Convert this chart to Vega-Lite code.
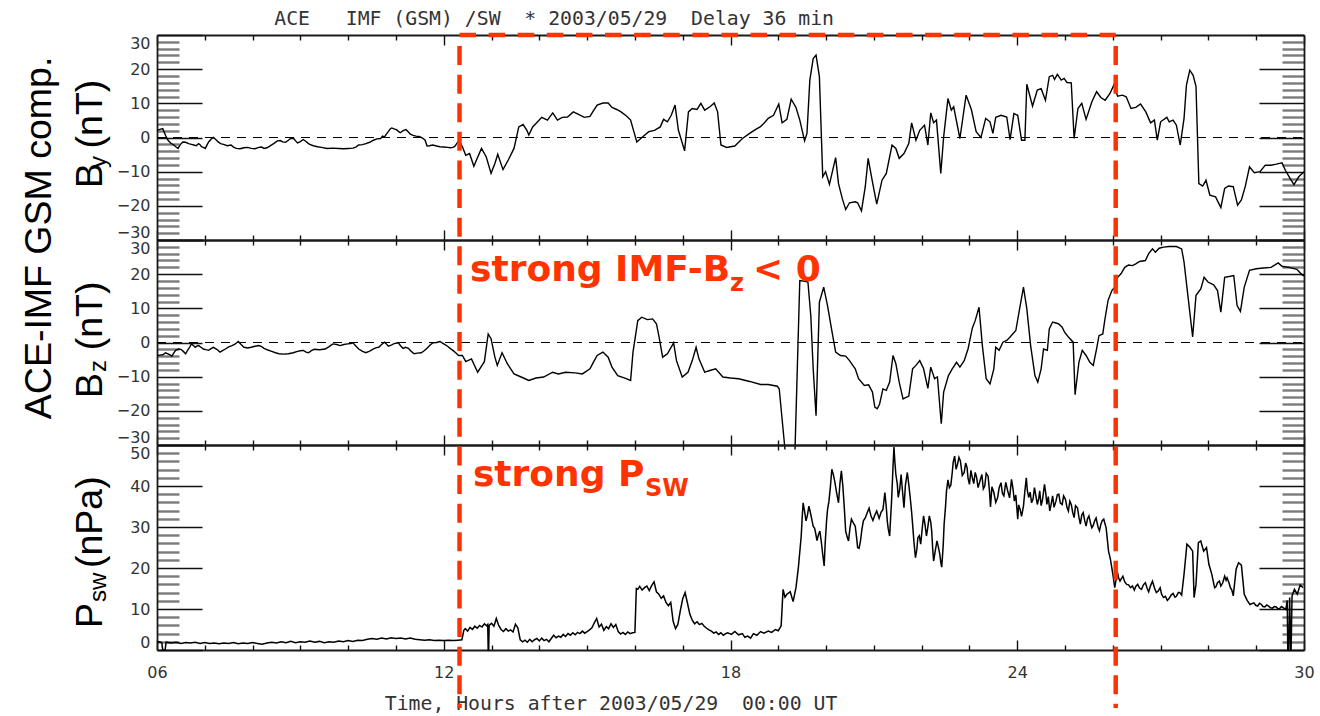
{
  "$schema": "https://vega.github.io/schema/vega-lite/v6.json",
  "autosize": {"type": "pad"},
  "padding": {"left": 20, "top": 9, "right": 0, "bottom": 0},
  "background": "white",
  "config": {
    "view": {"stroke": null},
    "axis": {"grid": false, "domainColor": "#1a1a1a", "domainWidth": 1.8, "labelFont": "DejaVu Sans", "labelFontSize": 16, "labelColor": "#333333", "labelOverlap": false, "labelBound": false}
  },
  "spacing": 0,
  "bounds": "flush",
  "datasets": {
    "by": [
      {"t":6.00,"v":2.1},{"t":6.12,"v":2.6},{"t":6.23,"v":-0.8},{"t":6.35,"v":-2.2},{"t":6.44,"v":-3.2},{"t":6.54,"v":-1.3},{"t":6.66,"v":-1.8},{"t":6.77,"v":-2.2},{"t":6.87,"v":-1.8},{"t":6.93,"v":-2.7},{"t":7.01,"v":-3.2},{"t":7.08,"v":-1.3},{"t":7.18,"v":0},{"t":7.28,"v":-1.3},{"t":7.39,"v":-2.0},{"t":7.55,"v":-2.2},{"t":7.66,"v":-3.2},{"t":7.82,"v":-3.0},{"t":7.97,"v":-3.2},{"t":8.13,"v":-2.9},{"t":8.24,"v":-3.2},{"t":8.36,"v":-2.5},{"t":8.52,"v":-1.0},{"t":8.63,"v":-1.3},{"t":8.75,"v":-0.8},{"t":8.86,"v":-0.3},{"t":8.94,"v":-1.6},{"t":9.06,"v":-0.6},{"t":9.17,"v":-1.8},{"t":9.29,"v":-2.5},{"t":9.44,"v":-2.9},{"t":9.68,"v":-3.1},{"t":9.91,"v":-3.3},{"t":10.10,"v":-3.1},{"t":10.22,"v":-2.2},{"t":10.37,"v":-1.8},{"t":10.53,"v":-0.8},{"t":10.68,"v":-0.3},{"t":10.76,"v":0.2},{"t":10.84,"v":1.7},{"t":10.91,"v":2.8},{"t":11.01,"v":2.3},{"t":11.09,"v":1.4},{"t":11.21,"v":2.3},{"t":11.30,"v":1.0},{"t":11.42,"v":0.4},{"t":11.53,"v":0},{"t":11.61,"v":-0.8},{"t":11.65,"v":-2.5},{"t":11.77,"v":-2.2},{"t":11.92,"v":-2.7},{"t":12.08,"v":-2.9},{"t":12.19,"v":-2.9},{"t":12.27,"v":-1.8},{"t":12.32,"v":-0.8},
      {"t":6.06,"v":2.4},{"t":6.18,"v":0.6},{"t":6.29,"v":-1.7},{"t":6.40,"v":-2.8},{"t":6.49,"v":-2.0},{"t":6.60,"v":-1.4},{"t":6.72,"v":-2.0},{"t":6.82,"v":-2.4},{"t":6.90,"v":-2.1},{"t":6.97,"v":-2.9},{"t":7.04,"v":-2.4},{"t":7.13,"v":-0.5},{"t":7.23,"v":-0.6},{"t":7.33,"v":-1.8},{"t":7.47,"v":-2.4},{"t":7.60,"v":-2.8},{"t":7.74,"v":-3.3},{"t":7.90,"v":-2.9},{"t":8.05,"v":-3.3},{"t":8.19,"v":-2.8},{"t":8.30,"v":-3.0},{"t":8.44,"v":-1.8},{"t":8.58,"v":-0.9},{"t":8.69,"v":-1.4},{"t":8.80,"v":-0.2},{"t":8.90,"v":-1.0},{"t":9.00,"v":-1.2},{"t":9.11,"v":-1.1},{"t":9.23,"v":-2.2},{"t":9.36,"v":-2.7},{"t":9.56,"v":-3.2},{"t":9.80,"v":-3.2},{"t":10.00,"v":-3.2},{"t":10.16,"v":-2.8},{"t":10.30,"v":-2.1},{"t":10.45,"v":-1.4},{"t":10.60,"v":-0.4},{"t":10.72,"v":0.4},{"t":10.80,"v":1.0},{"t":10.88,"v":2.5},{"t":10.96,"v":2.5},{"t":11.05,"v":1.8},{"t":11.15,"v":2.0},{"t":11.26,"v":1.6},{"t":11.36,"v":0.6},{"t":11.48,"v":0.3},{"t":11.57,"v":-0.3},{"t":11.70,"v":-2.4},{"t":11.85,"v":-2.5},{"t":12.00,"v":-2.8},{"t":12.14,"v":-3.0},{"t":12.23,"v":-2.6},
      {"t":12.39,"v":-2.7},{"t":12.46,"v":-5.2},{"t":12.54,"v":-4.7},{"t":12.63,"v":-8.4},{"t":12.70,"v":-6.1},{"t":12.79,"v":-3.2},{"t":12.89,"v":-5.7},{"t":12.99,"v":-10.5},{"t":13.07,"v":-7.6},{"t":13.13,"v":-4.9},{"t":13.24,"v":-9.4},{"t":13.35,"v":-6.6},{"t":13.47,"v":-3.2},{"t":13.57,"v":3.1},{"t":13.66,"v":3.8},{"t":13.74,"v":2.1},{"t":13.78,"v":0.7},{"t":13.86,"v":3.1},{"t":13.93,"v":4.1},{"t":14.05,"v":5.9},{"t":14.17,"v":5.1},{"t":14.28,"v":7.2},{"t":14.38,"v":5.1},{"t":14.48,"v":5.9},{"t":14.59,"v":6.0},{"t":14.71,"v":7.5},{"t":14.82,"v":6.8},{"t":14.94,"v":5.9},{"t":15.06,"v":6.2},{"t":15.13,"v":7.8},{"t":15.21,"v":9.5},{"t":15.33,"v":10.1},{"t":15.44,"v":10.1},{"t":15.52,"v":8.8},{"t":15.62,"v":8.2},{"t":15.71,"v":7.5},{"t":15.83,"v":6.2},{"t":15.91,"v":5.1},{"t":15.96,"v":2.6},{"t":16.04,"v":-1.3},{"t":16.14,"v":-0.1},{"t":16.29,"v":1.7},{"t":16.41,"v":2.1},{"t":16.53,"v":3.1},{"t":16.60,"v":5.3},{"t":16.68,"v":4.6},{"t":16.76,"v":6.5},{"t":16.84,"v":9.5},{"t":16.91,"v":2.1},{"t":17.04,"v":-3.9},{"t":17.12,"v":7.5},{"t":17.20,"v":8.5},{"t":17.30,"v":8.2},{"t":17.38,"v":10.0},{"t":17.46,"v":8.0},{"t":17.57,"v":9.0},{"t":17.66,"v":10.1},{"t":17.73,"v":7.5},{"t":17.80,"v":-2.2},{"t":17.92,"v":-2.9},{"t":18.00,"v":-2.7},{"t":18.09,"v":-2.5},{"t":18.25,"v":-0.3},{"t":18.40,"v":1.2},{"t":18.52,"v":2.3},{"t":18.62,"v":3.1},{"t":18.71,"v":4.3},{"t":18.79,"v":5.6},{"t":18.90,"v":6.5},{"t":19.01,"v":9.8},{"t":19.08,"v":4.3},{"t":19.18,"v":5.3},{"t":19.27,"v":11.2},{"t":19.37,"v":8.8},{"t":19.45,"v":5.1},{"t":19.55,"v":-1.0},{"t":19.60,"v":1.2},{"t":19.66,"v":16.8},{"t":19.73,"v":23.1},{"t":19.79,"v":24.1},{"t":19.86,"v":17.8},{"t":19.93,"v":-11.5},{"t":19.99,"v":-10.0},{"t":20.07,"v":-13.7},{"t":20.20,"v":-5.9},{"t":20.26,"v":-13.5},{"t":20.34,"v":-17.9},{"t":20.41,"v":-21.1},{"t":20.49,"v":-19.1},{"t":20.61,"v":-18.8},{"t":20.66,"v":-19.1},{"t":20.74,"v":-21.5},{"t":20.82,"v":-14.4},{"t":20.88,"v":-6.1},{"t":20.97,"v":-13.0},{"t":21.06,"v":-19.5},{"t":21.17,"v":-12.5},{"t":21.26,"v":-10.5},{"t":21.38,"v":-2.2},{"t":21.46,"v":-3.2},{"t":21.53,"v":-6.1},{"t":21.63,"v":-4.7},{"t":21.73,"v":-1.8},{"t":21.79,"v":4.3},{"t":21.88,"v":-0.8},{"t":21.96,"v":2.1},{"t":22.06,"v":3.6},{"t":22.13,"v":-2.2},{"t":22.19,"v":7.2},{"t":22.25,"v":4.3},{"t":22.31,"v":5.1},{"t":22.40,"v":-10.5},{"t":22.46,"v":0.2},{"t":22.55,"v":11.4},{"t":22.62,"v":8.0},{"t":22.67,"v":9.0},{"t":22.80,"v":-0.3},{"t":22.93,"v":12.4},{"t":23.04,"v":8.2},{"t":23.14,"v":1.7},{"t":23.24,"v":0},{"t":23.34,"v":5.6},{"t":23.43,"v":4.6},{"t":23.49,"v":1.2},{"t":23.55,"v":5.9},{"t":23.66,"v":6.5},{"t":23.78,"v":6.0},{"t":23.85,"v":-0.6},{"t":23.93,"v":7.0},{"t":24.01,"v":6.5},{"t":24.09,"v":-0.8},{"t":24.16,"v":-0.8},{"t":24.20,"v":15.6},{"t":24.32,"v":9.2},{"t":24.42,"v":13.9},{"t":24.50,"v":14.3},{"t":24.59,"v":10.9},{"t":24.67,"v":17.8},{"t":24.74,"v":18.2},{"t":24.78,"v":17.0},{"t":24.84,"v":18.5},{"t":24.92,"v":16.8},{"t":24.98,"v":17.3},{"t":25.04,"v":16.1},{"t":25.13,"v":16.0},{"t":25.19,"v":-0.3},{"t":25.27,"v":8.5},{"t":25.35,"v":10.0},{"t":25.44,"v":5.3},{"t":25.56,"v":10.4},{"t":25.66,"v":13.4},{"t":25.75,"v":11.7},{"t":25.84,"v":10.9},{"t":25.94,"v":12.9},{"t":26.02,"v":15.3},{"t":26.10,"v":12.1},{"t":26.20,"v":12.4},{"t":26.28,"v":11.9},{"t":26.38,"v":8.5},{"t":26.48,"v":8.8},{"t":26.58,"v":9.8},{"t":26.69,"v":7.5},{"t":26.79,"v":4.3},{"t":26.87,"v":5.1},{"t":26.93,"v":-0.8},{"t":27.00,"v":4.6},{"t":27.13,"v":5.9},{"t":27.18,"v":4.6},{"t":27.26,"v":5.1},{"t":27.33,"v":3.6},{"t":27.41,"v":-2.2},{"t":27.49,"v":5.6},{"t":27.54,"v":15.3},{"t":27.61,"v":19.7},{"t":27.68,"v":18.2},{"t":27.74,"v":15.0},{"t":27.80,"v":-13.5},{"t":27.88,"v":-14.2},{"t":27.95,"v":-12.5},{"t":28.03,"v":-16.9},{"t":28.15,"v":-17.4},{"t":28.26,"v":-20.5},{"t":28.34,"v":-14.9},{"t":28.42,"v":-14.2},{"t":28.52,"v":-14.4},{"t":28.61,"v":-19.8},{"t":28.69,"v":-18.3},{"t":28.77,"v":-14.4},{"t":28.86,"v":-8.6},{"t":28.96,"v":-10.3},{"t":29.08,"v":-10.0},{"t":29.19,"v":-8.1},{"t":29.31,"v":-8.1},{"t":29.42,"v":-7.8},{"t":29.54,"v":-7.4},{"t":29.61,"v":-9.6},{"t":29.69,"v":-11.5},{"t":29.79,"v":-13.8},{"t":29.89,"v":-11.5},{"t":30.00,"v":-10.0}
    ],
    "bz": [
      {"t":6.00,"v":-3.8},{"t":6.12,"v":-3.6},{"t":6.23,"v":-3.3},{"t":6.31,"v":-4.0},{"t":6.39,"v":-2.3},{"t":6.50,"v":-2.0},{"t":6.60,"v":-3.3},{"t":6.66,"v":-1.9},{"t":6.72,"v":-0.4},{"t":6.80,"v":-1.4},{"t":6.87,"v":-0.9},{"t":6.97,"v":-1.9},{"t":7.08,"v":-2.3},{"t":7.18,"v":-1.4},{"t":7.32,"v":-2.8},{"t":7.43,"v":-1.9},{"t":7.57,"v":-0.9},{"t":7.70,"v":0.3},{"t":7.82,"v":-1.4},{"t":7.97,"v":-1.4},{"t":8.13,"v":-0.9},{"t":8.24,"v":-1.7},{"t":8.40,"v":-2.6},{"t":8.55,"v":-3.3},{"t":8.75,"v":-3.3},{"t":8.94,"v":-2.6},{"t":9.06,"v":-2.3},{"t":9.17,"v":-3.0},{"t":9.29,"v":-2.0},{"t":9.52,"v":-1.9},{"t":9.68,"v":-0.4},{"t":9.83,"v":-0.9},{"t":9.99,"v":-0.4},{"t":10.10,"v":-0.1},{"t":10.22,"v":-1.9},{"t":10.37,"v":-3.0},{"t":10.53,"v":-1.9},{"t":10.64,"v":-1.4},{"t":10.76,"v":0.1},{"t":10.84,"v":-1.1},{"t":10.95,"v":-0.4},{"t":11.05,"v":-0.1},{"t":11.15,"v":-1.7},{"t":11.26,"v":-1.7},{"t":11.38,"v":-3.3},{"t":11.53,"v":-3.0},{"t":11.65,"v":-1.7},{"t":11.77,"v":-0.1},{"t":11.92,"v":0.3},{"t":12.08,"v":-1.1},{"t":12.19,"v":-2.3},{"t":12.31,"v":-3.8},
      {"t":6.06,"v":-3.7},{"t":6.18,"v":-3.0},{"t":6.27,"v":-3.6},{"t":6.35,"v":-3.1},{"t":6.45,"v":-1.9},{"t":6.55,"v":-2.6},{"t":6.63,"v":-2.5},{"t":6.69,"v":-1.2},{"t":6.76,"v":-0.9},{"t":6.84,"v":-1.0},{"t":6.92,"v":-1.4},{"t":7.02,"v":-2.1},{"t":7.13,"v":-1.8},{"t":7.25,"v":-2.0},{"t":7.38,"v":-2.3},{"t":7.50,"v":-1.3},{"t":7.63,"v":-0.5},{"t":7.76,"v":-0.6},{"t":7.90,"v":-1.6},{"t":8.05,"v":-1.1},{"t":8.19,"v":-1.2},{"t":8.32,"v":-2.2},{"t":8.48,"v":-3.0},{"t":8.65,"v":-3.4},{"t":8.85,"v":-3.0},{"t":9.00,"v":-2.4},{"t":9.12,"v":-2.8},{"t":9.23,"v":-2.4},{"t":9.40,"v":-2.1},{"t":9.60,"v":-1.2},{"t":9.76,"v":-0.6},{"t":9.91,"v":-0.6},{"t":10.05,"v":-0.3},{"t":10.16,"v":-1.0},{"t":10.30,"v":-2.6},{"t":10.45,"v":-2.5},{"t":10.59,"v":-1.5},{"t":10.70,"v":-0.6},{"t":10.80,"v":-0.4},{"t":10.90,"v":-0.8},{"t":11.00,"v":-0.2},{"t":11.10,"v":-1.0},{"t":11.20,"v":-1.4},{"t":11.32,"v":-2.6},{"t":11.45,"v":-3.1},{"t":11.59,"v":-2.4},{"t":11.71,"v":-0.8},{"t":11.85,"v":0.0},{"t":12.00,"v":-0.4},{"t":12.14,"v":-1.8},{"t":12.25,"v":-3.0},
      {"t":12.39,"v":-3.8},{"t":12.46,"v":-5.6},{"t":12.58,"v":-4.8},{"t":12.71,"v":-8.7},{"t":12.80,"v":-6.7},{"t":12.85,"v":-5.6},{"t":12.93,"v":2.5},{"t":12.99,"v":1.1},{"t":13.07,"v":-4.3},{"t":13.12,"v":-6.7},{"t":13.22,"v":-3.0},{"t":13.33,"v":-6.2},{"t":13.47,"v":-9.2},{"t":13.62,"v":-10.1},{"t":13.78,"v":-11.1},{"t":13.93,"v":-10.4},{"t":14.09,"v":-10.1},{"t":14.28,"v":-8.7},{"t":14.40,"v":-9.2},{"t":14.55,"v":-8.7},{"t":14.75,"v":-8.9},{"t":14.90,"v":-9.2},{"t":15.06,"v":-7.7},{"t":15.13,"v":-5.8},{"t":15.21,"v":-3.8},{"t":15.33,"v":-2.8},{"t":15.44,"v":-4.3},{"t":15.52,"v":-7.2},{"t":15.64,"v":-9.7},{"t":15.79,"v":-10.4},{"t":15.91,"v":-11.1},{"t":15.96,"v":-2.8},{"t":16.06,"v":6.4},{"t":16.14,"v":7.4},{"t":16.26,"v":6.7},{"t":16.37,"v":6.9},{"t":16.45,"v":5.5},{"t":16.50,"v":2.0},{"t":16.58,"v":-4.3},{"t":16.68,"v":-3.3},{"t":16.81,"v":-0.1},{"t":16.87,"v":-5.3},{"t":16.99,"v":-10.1},{"t":17.11,"v":-8.7},{"t":17.20,"v":-5.3},{"t":17.28,"v":-1.4},{"t":17.34,"v":-4.8},{"t":17.46,"v":-8.7},{"t":17.57,"v":-8.2},{"t":17.69,"v":-7.7},{"t":17.84,"v":-10.1},{"t":18.00,"v":-10.4},{"t":18.17,"v":-10.6},{"t":18.40,"v":-11.4},{"t":18.63,"v":-12.3},{"t":18.79,"v":-12.3},{"t":18.98,"v":-12.8},{"t":19.02,"v":-13.6},{"t":19.14,"v":-31.3},{"t":19.15,"v":null},{"t":19.34,"v":null},{"t":19.35,"v":-31.3},{"t":19.45,"v":18.1},{"t":19.56,"v":17.9},{"t":19.62,"v":17.7},{"t":19.68,"v":7.9},{"t":19.73,"v":-7.7},{"t":19.79,"v":-21.4},{"t":19.86,"v":11.8},{"t":19.95,"v":16.2},{"t":20.03,"v":10.8},{"t":20.12,"v":3.5},{"t":20.20,"v":-2.8},{"t":20.30,"v":-3.8},{"t":20.41,"v":-4.0},{"t":20.49,"v":-5.3},{"t":20.61,"v":-7.7},{"t":20.68,"v":-10.6},{"t":20.80,"v":-12.6},{"t":20.89,"v":-12.4},{"t":20.97,"v":-14.5},{"t":21.02,"v":-18.9},{"t":21.07,"v":-19.4},{"t":21.12,"v":-18.0},{"t":21.19,"v":-13.6},{"t":21.26,"v":-14.0},{"t":21.33,"v":-11.6},{"t":21.40,"v":-3.8},{"t":21.46,"v":-6.2},{"t":21.53,"v":-11.6},{"t":21.61,"v":-16.5},{"t":21.73,"v":-15.7},{"t":21.81,"v":-7.7},{"t":21.88,"v":-6.7},{"t":21.96,"v":-5.3},{"t":22.04,"v":-7.7},{"t":22.13,"v":-13.4},{"t":22.19,"v":-7.2},{"t":22.27,"v":-10.6},{"t":22.33,"v":-10.1},{"t":22.41,"v":-23.8},{"t":22.46,"v":-14.5},{"t":22.56,"v":-9.7},{"t":22.64,"v":-7.7},{"t":22.73,"v":-5.8},{"t":22.80,"v":-7.2},{"t":22.89,"v":-5.3},{"t":22.97,"v":-1.9},{"t":23.06,"v":4.2},{"t":23.12,"v":6.4},{"t":23.20,"v":10.3},{"t":23.27,"v":-0.9},{"t":23.35,"v":-10.6},{"t":23.43,"v":-12.1},{"t":23.51,"v":-7.7},{"t":23.55,"v":-1.4},{"t":23.62,"v":-2.3},{"t":23.70,"v":0.1},{"t":23.78,"v":0.6},{"t":23.85,"v":1.6},{"t":23.97,"v":3.5},{"t":24.05,"v":9.9},{"t":24.13,"v":16.2},{"t":24.20,"v":9.9},{"t":24.28,"v":-0.9},{"t":24.37,"v":-9.7},{"t":24.43,"v":-11.6},{"t":24.50,"v":-7.7},{"t":24.55,"v":-1.9},{"t":24.63,"v":-2.3},{"t":24.67,"v":4.0},{"t":24.74,"v":6.0},{"t":24.86,"v":5.5},{"t":24.94,"v":4.5},{"t":24.99,"v":3.0},{"t":25.07,"v":1.6},{"t":25.17,"v":0.1},{"t":25.21,"v":-15.3},{"t":25.29,"v":-5.8},{"t":25.36,"v":-2.3},{"t":25.44,"v":-3.8},{"t":25.52,"v":-5.8},{"t":25.59,"v":-6.7},{"t":25.66,"v":-1.9},{"t":25.71,"v":2.0},{"t":25.79,"v":2.5},{"t":25.83,"v":6.4},{"t":25.90,"v":12.3},{"t":25.98,"v":15.2},{"t":26.04,"v":16.2},{"t":26.10,"v":19.1},{"t":26.17,"v":20.1},{"t":26.25,"v":22.0},{"t":26.33,"v":22.7},{"t":26.41,"v":22.5},{"t":26.48,"v":23.0},{"t":26.56,"v":23.7},{"t":26.68,"v":24.0},{"t":26.75,"v":26.0},{"t":26.83,"v":27.4},{"t":26.89,"v":26.4},{"t":26.97,"v":27.6},{"t":27.06,"v":27.9},{"t":27.18,"v":28.1},{"t":27.33,"v":28.1},{"t":27.44,"v":27.4},{"t":27.49,"v":23.5},{"t":27.57,"v":13.8},{"t":27.67,"v":1.6},{"t":27.74,"v":13.8},{"t":27.84,"v":15.7},{"t":27.91,"v":19.1},{"t":27.99,"v":17.7},{"t":28.11,"v":16.9},{"t":28.19,"v":15.2},{"t":28.26,"v":8.9},{"t":28.34,"v":19.1},{"t":28.46,"v":19.4},{"t":28.53,"v":19.6},{"t":28.60,"v":10.8},{"t":28.67,"v":9.1},{"t":28.75,"v":16.2},{"t":28.86,"v":21.1},{"t":29.00,"v":21.6},{"t":29.15,"v":21.8},{"t":29.31,"v":22.0},{"t":29.46,"v":23.3},{"t":29.54,"v":22.3},{"t":29.69,"v":22.0},{"t":29.85,"v":21.4},{"t":29.96,"v":19.8},{"t":30.00,"v":19.5}
    ],
    "psw": [
      {"t":6.00,"v":1.9},{"t":6.05,"v":2.0},{"t":6.10,"v":1.8},{"t":6.12,"v":0.0},{"t":6.17,"v":0.0},{"t":6.19,"v":1.9},{"t":6.30,"v":1.7},{"t":6.40,"v":1.9},{"t":6.50,"v":1.6},{"t":6.60,"v":1.8},{"t":6.70,"v":1.7},{"t":6.80,"v":1.9},{"t":6.90,"v":1.6},{"t":7.00,"v":1.8},{"t":7.10,"v":1.6},{"t":7.20,"v":1.7},{"t":7.30,"v":1.5},{"t":7.40,"v":1.7},{"t":7.50,"v":1.6},{"t":7.60,"v":1.8},{"t":7.70,"v":1.5},{"t":7.80,"v":1.7},{"t":7.90,"v":1.6},{"t":8.00,"v":1.8},{"t":8.10,"v":1.6},{"t":8.20,"v":1.4},{"t":8.30,"v":1.7},{"t":8.40,"v":1.9},{"t":8.50,"v":1.7},{"t":8.60,"v":2.0},{"t":8.70,"v":1.8},{"t":8.80,"v":2.1},{"t":8.90,"v":1.8},{"t":9.00,"v":2.0},{"t":9.10,"v":1.9},{"t":9.20,"v":2.2},{"t":9.30,"v":1.9},{"t":9.40,"v":2.1},{"t":9.50,"v":1.8},{"t":9.60,"v":2.0},{"t":9.70,"v":1.9},{"t":9.80,"v":2.2},{"t":9.90,"v":2.0},{"t":10.00,"v":2.3},{"t":10.10,"v":2.1},{"t":10.20,"v":2.4},{"t":10.30,"v":2.3},{"t":10.40,"v":2.6},{"t":10.50,"v":2.8},{"t":10.60,"v":2.6},{"t":10.70,"v":2.9},{"t":10.80,"v":2.7},{"t":10.90,"v":3.0},{"t":11.00,"v":2.8},{"t":11.10,"v":2.9},{"t":11.20,"v":2.7},{"t":11.30,"v":2.9},{"t":11.40,"v":2.6},{"t":11.50,"v":2.5},{"t":11.60,"v":2.4},{"t":11.70,"v":2.5},{"t":11.80,"v":2.3},{"t":11.90,"v":2.4},{"t":12.00,"v":2.3},{"t":12.10,"v":2.4},{"t":12.20,"v":2.3},{"t":12.30,"v":2.4},{"t":12.38,"v":2.5},
      {"t":12.42,"v":4.8},{"t":12.45,"v":5.2},{"t":12.50,"v":4.6},{"t":12.55,"v":5.5},{"t":12.60,"v":5.0},{"t":12.65,"v":5.8},{"t":12.70,"v":5.3},{"t":12.75,"v":6.0},{"t":12.80,"v":5.6},{"t":12.85,"v":6.4},{"t":12.90,"v":5.9},{"t":12.92,"v":6.2},{"t":12.93,"v":0.0},{"t":12.94,"v":0.0},{"t":12.95,"v":6.0},{"t":13.00,"v":6.5},{"t":13.05,"v":5.8},{"t":13.10,"v":7.7},{"t":13.15,"v":6.0},{"t":13.20,"v":5.0},{"t":13.25,"v":4.5},{"t":13.30,"v":5.2},{"t":13.35,"v":4.6},{"t":13.40,"v":4.9},{"t":13.45,"v":4.4},{"t":13.50,"v":6.3},{"t":13.55,"v":5.4},{"t":13.60,"v":2.5},{"t":13.65,"v":2.0},{"t":13.70,"v":2.4},{"t":13.75,"v":1.9},{"t":13.80,"v":2.6},{"t":13.85,"v":2.0},{"t":13.90,"v":2.5},{"t":13.95,"v":2.8},{"t":14.00,"v":2.2},{"t":14.05,"v":2.9},{"t":14.10,"v":2.3},{"t":14.15,"v":2.6},{"t":14.20,"v":2.0},{"t":14.25,"v":2.8},{"t":14.30,"v":3.6},{"t":14.35,"v":3.0},{"t":14.40,"v":3.4},{"t":14.45,"v":3.1},{"t":14.50,"v":3.8},{"t":14.55,"v":3.3},{"t":14.60,"v":4.0},{"t":14.65,"v":3.6},{"t":14.70,"v":4.2},{"t":14.75,"v":3.7},{"t":14.80,"v":4.3},{"t":14.85,"v":4.0},{"t":14.90,"v":4.6},{"t":14.95,"v":4.1},{"t":15.00,"v":4.5},{"t":15.05,"v":4.9},{"t":15.10,"v":5.4},{"t":15.15,"v":6.6},{"t":15.20,"v":7.7},{"t":15.25,"v":5.6},{"t":15.30,"v":6.3},{"t":15.35,"v":4.8},{"t":15.40,"v":5.7},{"t":15.45,"v":5.2},{"t":15.50,"v":6.4},{"t":15.55,"v":5.5},{"t":15.60,"v":6.2},{"t":15.65,"v":4.5},{"t":15.70,"v":3.9},{"t":15.75,"v":4.3},{"t":15.80,"v":3.8},{"t":15.85,"v":4.4},{"t":15.90,"v":4.0},{"t":15.95,"v":4.2},{"t":16.00,"v":4.3},{"t":16.03,"v":15.0},{"t":16.06,"v":14.8},{"t":16.10,"v":15.5},{"t":16.15,"v":14.6},{"t":16.20,"v":15.2},{"t":16.25,"v":15.6},{"t":16.30,"v":14.5},{"t":16.35,"v":15.7},{"t":16.40,"v":16.6},{"t":16.45,"v":14.2},{"t":16.50,"v":13.6},{"t":16.55,"v":12.6},{"t":16.60,"v":13.2},{"t":16.65,"v":11.6},{"t":16.70,"v":10.8},{"t":16.75,"v":11.6},{"t":16.80,"v":7.0},{"t":16.85,"v":5.2},{"t":16.90,"v":6.3},{"t":16.95,"v":9.6},{"t":17.00,"v":12.5},{"t":17.05,"v":14.0},{"t":17.10,"v":11.4},{"t":17.15,"v":8.7},{"t":17.20,"v":7.3},{"t":17.25,"v":6.4},{"t":17.30,"v":6.9},{"t":17.35,"v":6.2},{"t":17.40,"v":6.5},{"t":17.45,"v":5.8},{"t":17.50,"v":5.3},{"t":17.55,"v":4.9},{"t":17.60,"v":4.6},{"t":17.65,"v":4.1},{"t":17.70,"v":4.4},{"t":17.75,"v":3.8},{"t":17.80,"v":4.2},{"t":17.85,"v":3.6},{"t":17.90,"v":4.0},{"t":17.94,"v":4.2},
      {"t":18.02,"v":3.8},{"t":18.09,"v":4.5},{"t":18.17,"v":3.7},{"t":18.25,"v":4.0},{"t":18.30,"v":3.1},{"t":18.36,"v":3.4},{"t":18.42,"v":2.9},{"t":18.48,"v":4.0},{"t":18.55,"v":3.6},{"t":18.63,"v":4.5},{"t":18.70,"v":4.1},{"t":18.79,"v":4.6},{"t":18.86,"v":4.3},{"t":18.94,"v":5.0},{"t":19.00,"v":4.7},{"t":19.06,"v":5.9},{"t":19.10,"v":14.8},{"t":19.14,"v":12.9},{"t":19.18,"v":13.6},{"t":19.25,"v":14.2},{"t":19.31,"v":11.8},{"t":19.37,"v":15.2},{"t":19.42,"v":20.1},{"t":19.48,"v":27.8},{"t":19.52,"v":35.9},{"t":19.58,"v":31.5},{"t":19.64,"v":35.1},{"t":19.70,"v":31.9},{"t":19.76,"v":29.7},{"t":19.81,"v":26.7},{"t":19.87,"v":29.0},{"t":19.93,"v":23.3},{"t":19.96,"v":20.5},{"t":20.01,"v":31.5},{"t":20.06,"v":36.3},{"t":20.12,"v":44.1},{"t":20.18,"v":41.2},{"t":20.26,"v":35.9},{"t":20.32,"v":43.7},{"t":20.37,"v":36.7},{"t":20.41,"v":29.0},{"t":20.47,"v":26.6},{"t":20.53,"v":31.9},{"t":20.61,"v":30.2},{"t":20.66,"v":25.0},{"t":20.72,"v":26.6},{"t":20.78,"v":31.5},{"t":20.86,"v":33.5},{"t":20.94,"v":32.7},{"t":21.02,"v":32.9},{"t":21.11,"v":32.1},{"t":21.19,"v":34.3},{"t":21.23,"v":38.4},{"t":21.28,"v":31.5},{"t":21.33,"v":27.8},{"t":21.37,"v":36.3},{"t":21.42,"v":49.5},{"t":21.46,"v":42.8},{"t":21.51,"v":37.2},{"t":21.57,"v":42.8},{"t":21.63,"v":34.7},{"t":21.70,"v":43.3},{"t":21.76,"v":37.2},{"t":21.81,"v":30.7},{"t":21.87,"v":22.5},{"t":21.92,"v":27.4},{"t":21.98,"v":25.8},{"t":22.04,"v":32.7},{"t":22.10,"v":27.8},{"t":22.16,"v":32.7},{"t":22.21,"v":29.0},{"t":22.25,"v":21.7},{"t":22.32,"v":26.6},{"t":22.38,"v":23.3},{"t":22.42,"v":20.2},{"t":22.47,"v":30.7},{"t":22.52,"v":38.8},{"t":22.58,"v":39.6},{"t":22.64,"v":43.3},{"t":22.69,"v":47.3},{"t":22.75,"v":45.3},{"t":22.81,"v":46.1},{"t":22.89,"v":43.3},{"t":22.95,"v":44.5},{"t":23.00,"v":40.4},{"t":23.06,"v":42.0},{"t":23.12,"v":43.3},{"t":23.18,"v":39.6},{"t":23.26,"v":42.8},{"t":23.32,"v":40.0},{"t":23.39,"v":42.4},{"t":23.44,"v":34.9},{"t":23.51,"v":38.4},{"t":23.59,"v":37.2},{"t":23.66,"v":40.8},{"t":23.72,"v":37.6},{"t":23.80,"v":38.8},{"t":23.88,"v":41.6},{"t":23.94,"v":36.3},{"t":24.01,"v":31.9},{"t":24.06,"v":34.3},{"t":24.13,"v":35.1},{"t":24.19,"v":42.0},{"t":24.24,"v":37.2},{"t":24.30,"v":35.9},{"t":24.36,"v":39.6},{"t":24.42,"v":35.5},{"t":24.47,"v":38.8},{"t":24.53,"v":36.7},{"t":24.57,"v":40.4},{"t":24.62,"v":35.5},{"t":24.68,"v":33.9},{"t":24.74,"v":37.6},{"t":24.81,"v":36.3},{"t":24.87,"v":38.0},{"t":24.94,"v":35.5},{"t":25.01,"v":36.7},{"t":25.07,"v":33.9},{"t":25.13,"v":35.5},{"t":25.19,"v":32.3},{"t":25.26,"v":34.7},{"t":25.32,"v":30.7},{"t":25.38,"v":33.5},{"t":25.44,"v":30.2},{"t":25.50,"v":32.7},{"t":25.56,"v":29.8},{"t":25.62,"v":31.5},{"t":25.69,"v":30.0},{"t":25.75,"v":30.7},{"t":25.81,"v":31.9},{"t":25.86,"v":29.8},{"t":25.91,"v":24.1},{"t":25.95,"v":22.1},{"t":26.00,"v":18.5},{"t":26.04,"v":15.2},{"t":26.10,"v":18.9},{"t":26.15,"v":16.8},{"t":26.21,"v":18.0},{"t":26.29,"v":16.0},{"t":26.37,"v":15.2},{"t":26.45,"v":14.6},{"t":26.52,"v":16.0},{"t":26.60,"v":14.8},{"t":26.68,"v":16.4},{"t":26.75,"v":14.2},{"t":26.83,"v":16.8},{"t":26.91,"v":14.0},{"t":26.99,"v":15.2},{"t":27.06,"v":12.8},{"t":27.14,"v":12.1},{"t":27.22,"v":13.4},{"t":27.30,"v":12.9},{"t":27.37,"v":14.0},{"t":27.44,"v":13.4},{"t":27.49,"v":18.5},{"t":27.55,"v":25.8},{"t":27.61,"v":25.1},{"t":27.67,"v":24.1},{"t":27.70,"v":12.8},{"t":27.74,"v":16.0},{"t":27.79,"v":26.2},{"t":27.84,"v":26.6},{"t":27.90,"v":24.1},{"t":27.96,"v":25.0},{"t":28.01,"v":20.9},{"t":28.07,"v":18.5},{"t":28.13,"v":15.2},{"t":28.19,"v":16.4},{"t":28.26,"v":15.6},{"t":28.34,"v":18.0},{"t":28.39,"v":17.6},{"t":28.46,"v":15.2},{"t":28.52,"v":13.2},{"t":28.58,"v":19.7},{"t":28.63,"v":21.3},{"t":28.69,"v":20.7},{"t":28.75,"v":13.6},{"t":28.81,"v":12.1},{"t":28.87,"v":11.1},{"t":28.95,"v":11.5},{"t":29.03,"v":10.7},{"t":29.11,"v":11.1},{"t":29.18,"v":10.5},{"t":29.26,"v":10.7},{"t":29.34,"v":10.2},{"t":29.42,"v":10.5},{"t":29.49,"v":10.1},{"t":29.57,"v":10.3},{"t":29.62,"v":9.9},{"t":29.65,"v":12.1},{"t":29.66,"v":0.0},{"t":29.68,"v":0.0},{"t":29.70,"v":12.8},{"t":29.72,"v":0.0},{"t":29.73,"v":0.0},{"t":29.75,"v":13.2},{"t":29.80,"v":14.8},{"t":29.86,"v":13.6},{"t":29.92,"v":15.9},{"t":29.98,"v":15.2},
      {"t":19.50,"v":32.4},{"t":19.55,"v":33.8},{"t":19.61,"v":32.9},{"t":19.67,"v":33.6},{"t":19.73,"v":30.2},{"t":19.78,"v":28.6},{"t":19.84,"v":28.1},{"t":19.90,"v":26.4},{"t":19.98,"v":25.8},
      {"t":20.03,"v":34.2},{"t":20.09,"v":39.8},{"t":20.15,"v":42.9},{"t":20.22,"v":38.4},{"t":20.29,"v":40.6},{"t":20.35,"v":40.1},{"t":20.39,"v":33.0},{"t":20.44,"v":27.6},{"t":20.50,"v":29.8},{"t":20.57,"v":31.0},{"t":20.64,"v":27.3},{"t":20.69,"v":24.8},{"t":20.75,"v":29.4},{"t":20.82,"v":32.2},{"t":20.90,"v":34.6},{"t":20.98,"v":31.6},{"t":21.06,"v":33.9},{"t":21.15,"v":33.6},{"t":21.21,"v":36.3},{"t":21.26,"v":34.8},{"t":21.30,"v":29.6},{"t":21.35,"v":32.1},{"t":21.40,"v":44.6},{"t":21.44,"v":45.8},{"t":21.49,"v":40.5},{"t":21.54,"v":39.1},{"t":21.60,"v":38.6},{"t":21.66,"v":40.2},{"t":21.73,"v":40.4},{"t":21.79,"v":33.6},{"t":21.84,"v":26.2},{"t":21.90,"v":24.6},{"t":21.95,"v":27.9},{"t":22.01,"v":29.5},{"t":22.07,"v":30.6},{"t":22.13,"v":30.1},{"t":22.19,"v":31.2},{"t":22.23,"v":24.8},{"t":22.28,"v":23.9},{"t":22.35,"v":25.1},{"t":22.40,"v":21.4},{"t":22.45,"v":25.4},{"t":22.50,"v":35.1},
      {"t":22.55,"v":41.5},{"t":22.61,"v":40.2},{"t":22.66,"v":45.8},{"t":22.72,"v":44.1},{"t":22.78,"v":47.0},{"t":22.85,"v":42.6},{"t":22.92,"v":45.6},{"t":22.97,"v":41.9},{"t":23.03,"v":43.8},{"t":23.09,"v":40.6},{"t":23.15,"v":42.1},{"t":23.22,"v":41.2},{"t":23.29,"v":39.3},{"t":23.35,"v":43.1},{"t":23.42,"v":38.6},{"t":23.47,"v":39.8},{"t":23.55,"v":36.0},{"t":23.62,"v":39.5},{"t":23.69,"v":38.2},{"t":23.76,"v":40.9},{"t":23.84,"v":37.1},{"t":23.91,"v":39.4},{"t":23.97,"v":37.8},{"t":24.03,"v":35.4},{"t":24.09,"v":32.6},{"t":24.16,"v":38.8},{"t":24.21,"v":39.0},{"t":24.27,"v":38.5},{"t":24.33,"v":36.8},{"t":24.39,"v":37.6},{"t":24.45,"v":36.9},{"t":24.50,"v":35.2},{"t":24.55,"v":38.6},{"t":24.60,"v":37.9},{"t":24.65,"v":37.4},{"t":24.71,"v":35.6},{"t":24.77,"v":34.8},{"t":24.84,"v":37.9},{"t":24.90,"v":35.9},{"t":24.97,"v":37.6},{"t":25.04,"v":34.8},{"t":25.10,"v":36.3},{"t":25.16,"v":33.6},{"t":25.22,"v":35.2},{"t":25.29,"v":32.4},{"t":25.35,"v":32.9},{"t":25.41,"v":31.6},{"t":25.47,"v":32.0},{"t":25.53,"v":31.1},{"t":25.59,"v":30.4},{"t":25.65,"v":32.2},{"t":25.72,"v":29.1},{"t":25.78,"v":31.6},{"t":25.84,"v":30.6},
      {"t":26.07,"v":17.3},{"t":26.12,"v":17.6},{"t":26.18,"v":17.4},{"t":26.25,"v":16.6},{"t":26.33,"v":15.9},{"t":26.41,"v":15.6},{"t":26.48,"v":15.5},{"t":26.56,"v":15.1},{"t":26.64,"v":15.9},{"t":26.72,"v":15.0},{"t":26.79,"v":15.7},{"t":26.87,"v":15.2},{"t":26.95,"v":14.4},{"t":27.02,"v":13.6},{"t":27.10,"v":13.1},{"t":27.18,"v":12.6},{"t":27.26,"v":13.8},{"t":27.33,"v":13.1},{"t":27.40,"v":14.0},{"t":28.10,"v":16.8},{"t":28.16,"v":15.5},{"t":28.23,"v":16.8},{"t":28.30,"v":16.4},{"t":28.37,"v":17.0},{"t":28.43,"v":16.4},{"t":28.49,"v":14.6},{"t":28.99,"v":10.9},{"t":29.07,"v":11.4},{"t":29.14,"v":10.6},{"t":29.22,"v":11.0},{"t":29.30,"v":10.3},{"t":29.38,"v":10.6},{"t":29.46,"v":10.0},{"t":29.53,"v":10.6}
    ]
  },
  "vconcat": [
    {
      "width": 1147,
      "height": 205,
      "layer": [
        {
          "data": {"name": "by"},
          "mark": {"type": "line", "color": "#000000", "strokeWidth": 1.4},
          "encoding": {
            "x": {"field": "t", "type": "quantitative", "scale": {"domain": [6, 30], "nice": false, "zero": false},
              "axis": {"orient": "bottom", "title": null, "labels": false, "values": [6,7,8,9,10,11,12,13,14,15,16,17,18,19,20,21,22,23,24,25,26,27,28,29,30],
                "tickSize": {"condition": {"test": "datum.value % 6 === 0", "value": -10}, "value": -5}, "tickColor": "#111111", "tickWidth": 1.4}},
            "y": {"field": "v", "type": "quantitative", "scale": {"domain": [-30, 30], "nice": false, "zero": false},
              "axis": {"orient": "left", "title": null, "values": [-30,-28,-26,-24,-22,-20,-18,-16,-14,-12,-10,-8,-6,-4,-2,0,2,4,6,8,10,12,14,16,18,20,22,24,26,28,30],
                "tickSize": {"condition": {"test": "datum.value % 10 === 0", "value": -45}, "value": -22},
                "tickWidth": {"condition": {"test": "datum.value % 10 === 0", "value": 1.5}, "value": 2.4},
                "tickColor": {"condition": {"test": "datum.value % 10 === 0", "value": "#111111"}, "value": "#7a7a7a"},
                "labelExpr": "datum.value % 10 === 0 ? datum.label : ''", "labelPadding": 52, "labelFlush": true}}
          }
        },
        {
          "data": {"values": [{}]},
          "mark": {"type": "rule", "color": "#000000", "strokeWidth": 1.2, "strokeDash": [9, 7]},
          "encoding": {
            "x": {"datum": 6, "type": "quantitative", "scale": {"domain": [6, 30]},
              "axis": {"orient": "top", "title": null, "labels": false, "values": [6,7,8,9,10,11,12,13,14,15,16,17,18,19,20,21,22,23,24,25,26,27,28,29,30],
                "tickSize": {"condition": {"test": "datum.value % 6 === 0", "value": -10}, "value": -5}, "tickColor": "#111111", "tickWidth": 1.4}},
            "x2": {"datum": 30},
            "y": {"datum": 0, "type": "quantitative", "scale": {"domain": [-30, 30]},
              "axis": {"orient": "right", "title": null, "labels": false, "values": [-30,-28,-26,-24,-22,-20,-18,-16,-14,-12,-10,-8,-6,-4,-2,0,2,4,6,8,10,12,14,16,18,20,22,24,26,28,30],
                "tickSize": {"condition": {"test": "datum.value % 10 === 0", "value": -45}, "value": -22},
                "tickWidth": {"condition": {"test": "datum.value % 10 === 0", "value": 1.5}, "value": 2.4},
                "tickColor": {"condition": {"test": "datum.value % 10 === 0", "value": "#111111"}, "value": "#7a7a7a"}}}
          }
        },
        {
          "data": {"values": [{}]},
          "mark": {"type": "rule", "color": "#ff3300", "strokeWidth": 4.5, "strokeDash": [16.5, 12.6]},
          "encoding": {
            "x": {"datum": 12.33, "type": "quantitative", "scale": {"domain": [6, 30]}, "axis": null},
            "x2": {"datum": 26.06},
            "y": {"datum": 30, "type": "quantitative", "scale": {"domain": [-30, 30]}, "axis": null}
          }
        },
        {
          "data": {"values": [{}]},
          "mark": {"type": "text", "text": "ACE\u00a0\u00a0\u00a0IMF (GSM) /SW\u00a0\u00a0* 2003/05/29\u00a0\u00a0Delay 36 min", "font": "DejaVu Sans Mono", "fontSize": 19.8, "color": "#333333", "align": "center", "baseline": "middle"},
          "encoding": {
            "x": {"datum": 14.31, "type": "quantitative", "scale": {"domain": [6, 30]}, "axis": null},
            "y": {"datum": 34.68, "type": "quantitative", "scale": {"domain": [-30, 30]}, "axis": null}
          }
        },
        {
          "data": {"values": [{}]},
          "mark": {"type": "text", "text": "ACE-IMF GSM comp.", "font": "Liberation Sans", "fontSize": 37.5, "color": "#000000", "angle": 270, "align": "center", "baseline": "alphabetic"},
          "encoding": {
            "x": {"datum": 3.782, "type": "quantitative", "scale": {"domain": [6, 30]}, "axis": null},
            "y": {"datum": -29.4, "type": "quantitative", "scale": {"domain": [-30, 30]}, "axis": null}
          }
        },
        {
          "data": {"values": [{}]},
          "mark": {"type": "text", "text": "B", "font": "Liberation Sans", "fontSize": 37.5, "color": "#000000", "angle": 270, "align": "left", "baseline": "alphabetic"},
          "encoding": {
            "x": {"datum": 4.849, "type": "quantitative", "scale": {"domain": [6, 30]}, "axis": null},
            "y": {"datum": -14.78, "type": "quantitative", "scale": {"domain": [-30, 30]}, "axis": null}
          }
        },
        {
          "data": {"values": [{}]},
          "mark": {"type": "text", "text": "y", "font": "Liberation Sans", "fontSize": 24, "color": "#000000", "angle": 270, "align": "left", "baseline": "alphabetic"},
          "encoding": {
            "x": {"datum": 4.933, "type": "quantitative", "scale": {"domain": [6, 30]}, "axis": null},
            "y": {"datum": -8.9, "type": "quantitative", "scale": {"domain": [-30, 30]}, "axis": null}
          }
        },
        {
          "data": {"values": [{}]},
          "mark": {"type": "text", "text": "(nT)", "font": "Liberation Sans", "fontSize": 37.5, "color": "#000000", "angle": 270, "align": "left", "baseline": "alphabetic"},
          "encoding": {
            "x": {"datum": 4.849, "type": "quantitative", "scale": {"domain": [6, 30]}, "axis": null},
            "y": {"datum": -3.2, "type": "quantitative", "scale": {"domain": [-30, 30]}, "axis": null}
          }
        }
      ],
      "resolve": {"axis": {"x": "independent", "y": "independent"}}
    },
    {
      "width": 1147,
      "height": 205,
      "layer": [
        {
          "data": {"name": "bz"},
          "mark": {"type": "line", "color": "#000000", "strokeWidth": 1.4},
          "encoding": {
            "x": {"field": "t", "type": "quantitative", "scale": {"domain": [6, 30], "nice": false, "zero": false},
              "axis": {"orient": "bottom", "title": null, "labels": false, "values": [6,7,8,9,10,11,12,13,14,15,16,17,18,19,20,21,22,23,24,25,26,27,28,29,30],
                "tickSize": {"condition": {"test": "datum.value % 6 === 0", "value": -10}, "value": -5}, "tickColor": "#111111", "tickWidth": 1.4}},
            "y": {"field": "v", "type": "quantitative", "scale": {"domain": [-30, 30], "nice": false, "zero": false},
              "axis": {"orient": "left", "title": null, "values": [-30,-28,-26,-24,-22,-20,-18,-16,-14,-12,-10,-8,-6,-4,-2,0,2,4,6,8,10,12,14,16,18,20,22,24,26,28,30],
                "tickSize": {"condition": {"test": "datum.value % 10 === 0", "value": -45}, "value": -22},
                "tickWidth": {"condition": {"test": "datum.value % 10 === 0", "value": 1.5}, "value": 2.4},
                "tickColor": {"condition": {"test": "datum.value % 10 === 0", "value": "#111111"}, "value": "#7a7a7a"},
                "labelExpr": "datum.value % 10 === 0 ? datum.label : ''", "labelPadding": 52, "labelFlush": true}}
          }
        },
        {
          "data": {"values": [{}]},
          "mark": {"type": "rule", "color": "#000000", "strokeWidth": 1.2, "strokeDash": [9, 7]},
          "encoding": {
            "x": {"datum": 6, "type": "quantitative", "scale": {"domain": [6, 30]},
              "axis": {"orient": "top", "title": null, "labels": false, "values": [6,7,8,9,10,11,12,13,14,15,16,17,18,19,20,21,22,23,24,25,26,27,28,29,30],
                "tickSize": {"condition": {"test": "datum.value % 6 === 0", "value": -10}, "value": -5}, "tickColor": "#111111", "tickWidth": 1.4}},
            "x2": {"datum": 30},
            "y": {"datum": 0, "type": "quantitative", "scale": {"domain": [-30, 30]},
              "axis": {"orient": "right", "title": null, "labels": false, "values": [-30,-28,-26,-24,-22,-20,-18,-16,-14,-12,-10,-8,-6,-4,-2,0,2,4,6,8,10,12,14,16,18,20,22,24,26,28,30],
                "tickSize": {"condition": {"test": "datum.value % 10 === 0", "value": -45}, "value": -22},
                "tickWidth": {"condition": {"test": "datum.value % 10 === 0", "value": 1.5}, "value": 2.4},
                "tickColor": {"condition": {"test": "datum.value % 10 === 0", "value": "#111111"}, "value": "#7a7a7a"}}}
          }
        },
        {
          "data": {"values": [{}]},
          "mark": {"type": "text", "text": "B", "font": "Liberation Sans", "fontSize": 37.5, "color": "#000000", "angle": 270, "align": "left", "baseline": "alphabetic"},
          "encoding": {
            "x": {"datum": 4.849, "type": "quantitative", "scale": {"domain": [6, 30]}, "axis": null},
            "y": {"datum": -16.24, "type": "quantitative", "scale": {"domain": [-30, 30]}, "axis": null}
          }
        },
        {
          "data": {"values": [{}]},
          "mark": {"type": "text", "text": "z", "font": "Liberation Sans", "fontSize": 24, "color": "#000000", "angle": 270, "align": "left", "baseline": "alphabetic"},
          "encoding": {
            "x": {"datum": 4.933, "type": "quantitative", "scale": {"domain": [6, 30]}, "axis": null},
            "y": {"datum": -8.6, "type": "quantitative", "scale": {"domain": [-30, 30]}, "axis": null}
          }
        },
        {
          "data": {"values": [{}]},
          "mark": {"type": "text", "text": "(nT)", "font": "Liberation Sans", "fontSize": 37.5, "color": "#000000", "angle": 270, "align": "left", "baseline": "alphabetic"},
          "encoding": {
            "x": {"datum": 4.849, "type": "quantitative", "scale": {"domain": [6, 30]}, "axis": null},
            "y": {"datum": -2.3, "type": "quantitative", "scale": {"domain": [-30, 30]}, "axis": null}
          }
        },
        {
          "data": {"values": [{}]},
          "mark": {"type": "text", "text": "strong IMF-B", "font": "DejaVu Sans", "fontWeight": "bold", "fontSize": 36, "color": "#ff3300", "align": "left", "baseline": "alphabetic"},
          "encoding": {
            "x": {"datum": 12.55, "type": "quantitative", "scale": {"domain": [6, 30]}, "axis": null},
            "y": {"datum": 18.0, "type": "quantitative", "scale": {"domain": [-30, 30]}, "axis": null}
          }
        },
        {
          "data": {"values": [{}]},
          "mark": {"type": "text", "text": "z", "font": "DejaVu Sans", "fontWeight": "bold", "fontSize": 24, "color": "#ff3300", "align": "left", "baseline": "alphabetic"},
          "encoding": {
            "x": {"datum": 17.99, "type": "quantitative", "scale": {"domain": [6, 30]}, "axis": null},
            "y": {"datum": 15.07, "type": "quantitative", "scale": {"domain": [-30, 30]}, "axis": null}
          }
        },
        {
          "data": {"values": [{}]},
          "mark": {"type": "text", "text": "< 0", "font": "DejaVu Sans", "fontWeight": "bold", "fontSize": 36, "color": "#ff3300", "align": "left", "baseline": "alphabetic"},
          "encoding": {
            "x": {"datum": 18.47, "type": "quantitative", "scale": {"domain": [6, 30]}, "axis": null},
            "y": {"datum": 18.0, "type": "quantitative", "scale": {"domain": [-30, 30]}, "axis": null}
          }
        }
      ],
      "resolve": {"axis": {"x": "independent", "y": "independent"}}
    },
    {
      "width": 1147,
      "height": 205,
      "layer": [
        {
          "data": {"name": "psw"},
          "mark": {"type": "line", "color": "#000000", "strokeWidth": 1.5},
          "encoding": {
            "x": {"field": "t", "type": "quantitative", "scale": {"domain": [6, 30], "nice": false, "zero": false},
              "axis": {"orient": "bottom", "title": null, "values": [6,7,8,9,10,11,12,13,14,15,16,17,18,19,20,21,22,23,24,25,26,27,28,29,30],
                "tickSize": {"condition": {"test": "datum.value % 6 === 0", "value": -10}, "value": -5}, "tickColor": "#111111", "tickWidth": 1.4,
                "labelExpr": "datum.value % 6 === 0 ? (datum.value < 10 ? '0' + datum.value : '' + datum.value) : ''", "labelPadding": 24, "labelFlush": false}},
            "y": {"field": "v", "type": "quantitative", "scale": {"domain": [0, 50], "nice": false, "zero": false},
              "axis": {"orient": "left", "title": null, "values": [0,2,4,6,8,10,12,14,16,18,20,22,24,26,28,30,32,34,36,38,40,42,44,46,48,50],
                "tickSize": {"condition": {"test": "datum.value % 10 === 0", "value": -45}, "value": -22},
                "tickWidth": {"condition": {"test": "datum.value % 10 === 0", "value": 1.5}, "value": 2.4},
                "tickColor": {"condition": {"test": "datum.value % 10 === 0", "value": "#111111"}, "value": "#7a7a7a"},
                "labelExpr": "datum.value % 10 === 0 ? datum.label : ''", "labelPadding": 52, "labelFlush": true}}
          }
        },
        {
          "data": {"values": [{}]},
          "mark": {"type": "text", "text": "P", "font": "Liberation Sans", "fontSize": 37.5, "color": "#000000", "angle": 270, "align": "left", "baseline": "alphabetic"},
          "encoding": {
            "x": {"datum": 4.849, "type": "quantitative", "scale": {"domain": [6, 30]}, "axis": null},
            "y": {"datum": 5.37, "type": "quantitative", "scale": {"domain": [0, 50]}, "axis": null}
          }
        },
        {
          "data": {"values": [{}]},
          "mark": {"type": "text", "text": "sw", "font": "Liberation Sans", "fontSize": 24, "color": "#000000", "angle": 270, "align": "left", "baseline": "alphabetic"},
          "encoding": {
            "x": {"datum": 4.933, "type": "quantitative", "scale": {"domain": [6, 30]}, "axis": null},
            "y": {"datum": 11.7, "type": "quantitative", "scale": {"domain": [0, 50]}, "axis": null}
          }
        },
        {
          "data": {"values": [{}]},
          "mark": {"type": "text", "text": "(nPa)", "font": "Liberation Sans", "fontSize": 37.5, "color": "#000000", "angle": 270, "align": "left", "baseline": "alphabetic"},
          "encoding": {
            "x": {"datum": 4.849, "type": "quantitative", "scale": {"domain": [6, 30]}, "axis": null},
            "y": {"datum": 20.0, "type": "quantitative", "scale": {"domain": [0, 50]}, "axis": null}
          }
        },
        {
          "data": {"values": [{}]},
          "mark": {"type": "text", "text": "strong P", "font": "DejaVu Sans", "fontWeight": "bold", "fontSize": 36, "color": "#ff3300", "align": "left", "baseline": "alphabetic"},
          "encoding": {
            "x": {"datum": 12.61, "type": "quantitative", "scale": {"domain": [6, 30]}, "axis": null},
            "y": {"datum": 40.0, "type": "quantitative", "scale": {"domain": [0, 50]}, "axis": null}
          }
        },
        {
          "data": {"values": [{}]},
          "mark": {"type": "text", "text": "SW", "font": "DejaVu Sans", "fontWeight": "bold", "fontSize": 24, "color": "#ff3300", "align": "left", "baseline": "alphabetic"},
          "encoding": {
            "x": {"datum": 16.21, "type": "quantitative", "scale": {"domain": [6, 30]}, "axis": null},
            "y": {"datum": 37.56, "type": "quantitative", "scale": {"domain": [0, 50]}, "axis": null}
          }
        },
        {
          "data": {"values": [{}]},
          "mark": {"type": "text", "text": "Time, Hours after 2003/05/29\u00a0\u00a000:00 UT", "font": "DejaVu Sans Mono", "fontSize": 19.8, "color": "#333333", "align": "center", "baseline": "middle"},
          "encoding": {
            "x": {"datum": 15.50, "type": "quantitative", "scale": {"domain": [6, 30]}, "axis": null},
            "y": {"datum": -13.17, "type": "quantitative", "scale": {"domain": [0, 50]}, "axis": null}
          }
        },
        {
          "data": {"values": [{"t": 12.33}, {"t": 26.06}]},
          "mark": {"type": "rule", "color": "#ff3300", "strokeWidth": 4.5, "strokeDash": [19, 9.6]},
          "encoding": {
            "x": {"field": "t", "type": "quantitative", "scale": {"domain": [6, 30]},
              "axis": {"orient": "top", "title": null, "labels": false, "values": [6,7,8,9,10,11,12,13,14,15,16,17,18,19,20,21,22,23,24,25,26,27,28,29,30],
                "tickSize": {"condition": {"test": "datum.value % 6 === 0", "value": -10}, "value": -5}, "tickColor": "#111111", "tickWidth": 1.4}},
            "y": {"datum": 147.3, "type": "quantitative", "scale": {"domain": [0, 50]},
              "axis": {"orient": "right", "title": null, "labels": false, "values": [0,2,4,6,8,10,12,14,16,18,20,22,24,26,28,30,32,34,36,38,40,42,44,46,48,50],
                "tickSize": {"condition": {"test": "datum.value % 10 === 0", "value": -45}, "value": -22},
                "tickWidth": {"condition": {"test": "datum.value % 10 === 0", "value": 1.5}, "value": 2.4},
                "tickColor": {"condition": {"test": "datum.value % 10 === 0", "value": "#111111"}, "value": "#7a7a7a"}}},
            "y2": {"datum": -14.15}
          }
        }
      ],
      "resolve": {"axis": {"x": "independent", "y": "independent"}}
    }
  ]
}
